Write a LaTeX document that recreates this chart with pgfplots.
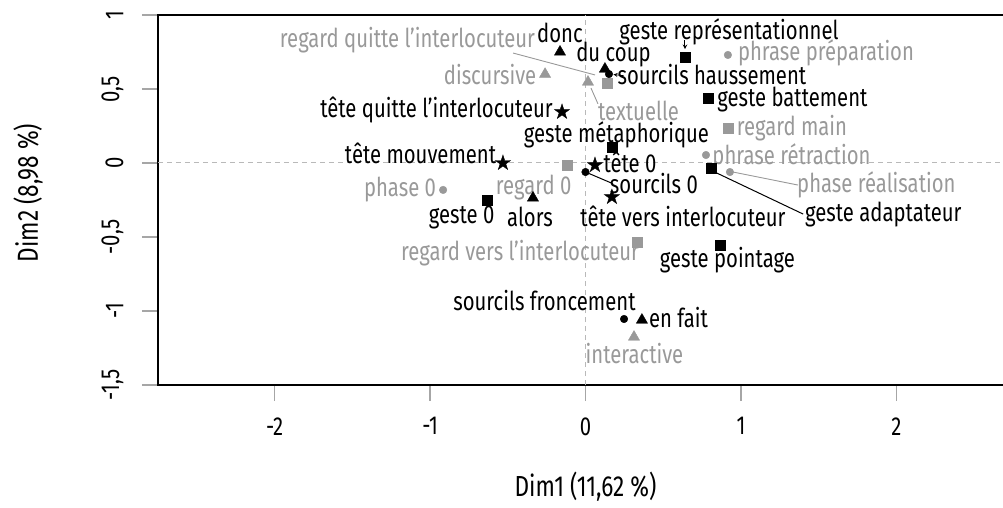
\documentclass[border=0pt]{standalone}
\usepackage{fontspec}
\setmainfont{Fira Sans}[FakeStretch=0.78]
\usepackage{pgfplots}
\pgfplotsset{compat=1.18}
\definecolor{gtxt}{gray}{0.6}
\definecolor{gmk}{gray}{0.6}
\pgfdeclareplotmark{fstar}{%
 \pgfpathmoveto{\pgfqpoint{0pt}{\pgfplotmarksize}}%
 \pgfpathlineto{\pgfqpoint{-0.2245\pgfplotmarksize}{0.309\pgfplotmarksize}}%
 \pgfpathlineto{\pgfqpoint{-0.951\pgfplotmarksize}{0.309\pgfplotmarksize}}%
 \pgfpathlineto{\pgfqpoint{-0.363\pgfplotmarksize}{-0.118\pgfplotmarksize}}%
 \pgfpathlineto{\pgfqpoint{-0.588\pgfplotmarksize}{-0.809\pgfplotmarksize}}%
 \pgfpathlineto{\pgfqpoint{0pt}{-0.382\pgfplotmarksize}}%
 \pgfpathlineto{\pgfqpoint{0.588\pgfplotmarksize}{-0.809\pgfplotmarksize}}%
 \pgfpathlineto{\pgfqpoint{0.363\pgfplotmarksize}{-0.118\pgfplotmarksize}}%
 \pgfpathlineto{\pgfqpoint{0.951\pgfplotmarksize}{0.309\pgfplotmarksize}}%
 \pgfpathlineto{\pgfqpoint{0.2245\pgfplotmarksize}{0.309\pgfplotmarksize}}%
 \pgfpathclose
 \pgfusepathqfillstroke}
\begin{document}
\begin{tikzpicture}[font=\fontsize{26bp}{28bp}\selectfont]
\begin{axis}[
  scale only axis, width=855bp, height=370bp,
  xmin=-2.75, xmax=2.75, ymin=-1.5, ymax=1,
  clip=false,
  axis line style={black, line width=1.8bp},
  xtick={-2,-1,0,1,2}, xticklabels={-2,-1,0,1,2},
  ytick={-1.5,-1,-0.5,0,0.5,1}, yticklabels={{-1,5},{-1},{-0,5},{0},{0,5},{1}},
  xtick pos=bottom, ytick pos=left, tick align=outside,
  major tick length=16bp,
  tick style={gray!70, line width=1.2bp},
  y tick label style={rotate=90},
  xticklabel shift=13bp, yticklabel shift=15bp,
  xlabel={Dim1 (11,62 \%)}, ylabel={Dim2 (8,98 \%)},
  label style={font=\fontsize{29bp}{31bp}\selectfont},
  xlabel style={at={(axis description cs:0.5,-0.276)}, anchor=center},
  ylabel style={at={(axis description cs:-0.152,0.519)}, anchor=center, rotate=0},
]
\addplot[gray!55, dashed, line width=1bp, dash pattern=on 5bp off 4bp] coordinates {(-2.75,0) (2.75,0)};
\addplot[gray!55, dashed, line width=1bp, dash pattern=on 5bp off 4bp] coordinates {(0,-1.5) (0,1)};
% leader lines
\draw[gtxt, line width=0.9bp] (axis cs:-0.466,0.743) -- (axis cs:0.061,0.595);
\draw[gtxt, line width=0.9bp] (axis cs:0.08,0.40) -- (axis cs:0.035,0.507);
\draw[gtxt, line width=0.9bp] (axis cs:1.367,-0.149) -- (axis cs:0.949,-0.061);
\draw[black, line width=1bp] (axis cs:1.40,-0.345) -- (axis cs:0.845,-0.068);
\draw[black, line width=1bp] (axis cs:0.177,-0.14) -- (axis cs:0.016,-0.068);
\draw[black, line width=1bp, -stealth] (axis cs:0.64,0.831) -- (axis cs:0.64,0.77);
\draw[black, line width=0.8bp, -stealth] (axis cs:0.245,0.59) -- (axis cs:0.18,0.598);
% gray triangles
\addplot[only marks, mark=triangle*, mark size=6.5bp, gmk] coordinates {(-0.26,0.6) (0.016,0.547) (0.312,-1.176)};
% gray circles
\addplot[only marks, mark=*, mark size=3.8bp, gmk] coordinates {(0.916,0.73) (0.775,0.054) (0.929,-0.061) (-0.916,-0.182)};
% gray squares
\addplot[only marks, mark=square*, mark size=5bp, gmk] coordinates {(0.138,0.541) (0.916,0.236) (-0.119,-0.014) (0.331,-0.534)};
% black triangles
\addplot[only marks, mark=triangle*, mark size=6.5bp, black] coordinates {(-0.164,0.75) (0.125,0.635) (-0.338,-0.236) (0.363,-1.061)};
% black circles
\addplot[only marks, mark=*, mark size=3.8bp, black] coordinates {(0.151,0.601) (0,-0.061) (0.248,-1.054)};
% black squares
\addplot[only marks, mark=square*, mark size=5bp, black] coordinates {(0.64,0.716) (0.788,0.439) (0.17,0.108) (0.807,-0.034) (-0.633,-0.25) (0.865,-0.554)};
% stars
\addplot[only marks, mark=fstar, mark size=8bp, black] coordinates {(-0.151,0.345) (-0.531,0) (0.061,-0.014) (0.17,-0.23)};
% black labels
\begin{scope}[every node/.style={inner sep=0pt, text=black, anchor=center}]
\node at (axis cs:-0.164,0.878) {donc};
\node at (axis cs:0.923,0.885) {geste représentationnel};
\node at (axis cs:0.18,0.736) {du coup};
\node at (axis cs:0.813,0.595) {sourcils haussement};
\node at (axis cs:-0.958,0.358) {tête quitte l’interlocuteur};
\node at (axis cs:1.331,0.426) {geste battement};
\node at (axis cs:0.199,0.189) {geste métaphorique};
\node at (axis cs:-1.061,0.068) {tête mouvement};
\node at (axis cs:0.286,0.007) {tête 0};
\node at (axis cs:0.44,-0.142) {sourcils 0};
\node at (axis cs:-0.797,-0.365) {geste 0};
\node at (axis cs:-0.357,-0.365) {alors};
\node at (axis cs:0.627,-0.358) {tête vers interlocuteur};
\node at (axis cs:1.916,-0.345) {geste adaptateur};
\node at (axis cs:0.913,-0.655) {geste pointage};
\node at (axis cs:-0.264,-0.926) {sourcils froncement};
\node at (axis cs:0.598,-1.041) {en fait};
\end{scope}
\begin{scope}[every node/.style={inner sep=0pt, text=gtxt, anchor=center}]
\node at (axis cs:-1.145,0.831) {regard quitte l’interlocuteur};
\node at (axis cs:1.547,0.743) {phrase préparation};
\node at (axis cs:-0.614,0.595) {discursive};
\node at (axis cs:0.341,0.351) {textuelle};
\node at (axis cs:1.328,0.236) {regard main};
\node at (axis cs:1.325,0.041) {phrase rétraction};
\node at (axis cs:1.871,-0.149) {phase réalisation};
\node at (axis cs:-1.193,-0.182) {phase 0};
\node at (axis cs:-0.334,-0.169) {regard 0};
\node at (axis cs:-0.421,-0.608) {regard vers l’interlocuteur};
\node at (axis cs:0.315,-1.284) {interactive};
\end{scope}
\end{axis}
\pgfresetboundingbox
\path[use as bounding box] (-158bp,-123bp) rectangle (845bp,385bp);
\end{tikzpicture}
\end{document}
